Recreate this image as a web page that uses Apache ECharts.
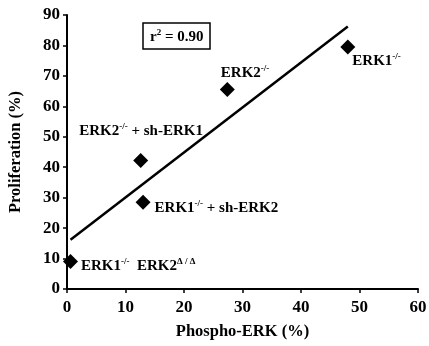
<!DOCTYPE html>
<html>
<head>
<meta charset="utf-8">
<script src="https://cdn.jsdelivr.net/npm/echarts@6/dist/echarts.min.js"></script>
<style>
  html, body { margin: 0; padding: 0; background: #fff; }
  #chart { width: 429px; height: 346px; }
</style>
</head>
<body>
<div id="chart"></div>
<script>
// data
const phosphoErk = [0.6, 13.0, 12.6, 27.4, 48.0];
const proliferation = [9.0, 28.5, 42.2, 65.5, 79.5];
const pointLabels = [
  '{b|ERK1}{s|-/-}{b|  ERK2}{s|Δ / Δ}',
  '{b|ERK1}{s|-/-}{b| + sh-ERK2}',
  '{b|ERK2}{s|-/-}{b| + sh-ERK1}',
  '{b|ERK2}{s|-/-}',
  '{b|ERK1}{s|-/-}'
];
const trendX = [0.6, 48.0];
const trendY = [16.2, 86.2];
const xTicks = [0, 10, 20, 30, 40, 50, 60];
const yTicks = [0, 10, 20, 30, 40, 50, 60, 70, 80, 90];
const rSquared = '0.90';

// label placement relative to each marker (styling, not data)
const labelOffsets = [[18, 12], [19, 13], [-54, -22], [1, -9], [12, 22]];

const FONT = 'Liberation Serif';
const rich = {
  b: { fontFamily: FONT, fontWeight: 'bold', fontSize: 15, color: '#000', lineHeight: 18 },
  s: { fontFamily: FONT, fontWeight: 'bold', fontSize: 9, color: '#000', verticalAlign: 'top', lineHeight: 10 }
};

const chart = echarts.init(document.getElementById('chart'), null, { renderer: 'canvas' });

chart.setOption({
  animation: false,
  grid: { left: 67, right: 11, top: 15, bottom: 57, containLabel: false, outerBoundsMode: 'none' },
  title: {
    text: '{r|r}{sup|2}{r| = ' + rSquared + '}',
    left: 143,
    top: 23,
    padding: [5, 7, 5, 7],
    borderColor: '#000',
    borderWidth: 1.5,
    textStyle: {
      rich: {
        r: { fontFamily: FONT, fontWeight: 'bold', fontSize: 15, color: '#000', lineHeight: 18 },
        sup: { fontFamily: FONT, fontWeight: 'bold', fontSize: 9, color: '#000', verticalAlign: 'top', lineHeight: 10 }
      }
    }
  },
  xAxis: {
    type: 'value',
    min: xTicks[0],
    max: xTicks[xTicks.length - 1],
    interval: xTicks[1] - xTicks[0],
    name: 'Phospho-ERK (%)',
    nameLocation: 'middle',
    nameGap: 34,
    nameTextStyle: { fontFamily: FONT, fontWeight: 'bold', fontSize: 16.5, color: '#000' },
    axisLine: { lineStyle: { color: '#000', width: 2 } },
    axisTick: { show: true, length: 4, lineStyle: { color: '#000', width: 1.5 } },
    axisLabel: { fontFamily: FONT, fontWeight: 'bold', fontSize: 17, color: '#000', margin: 10 },
    splitLine: { show: false }
  },
  yAxis: {
    type: 'value',
    min: yTicks[0],
    max: yTicks[yTicks.length - 1],
    interval: yTicks[1] - yTicks[0],
    name: 'Proliferation (%)',
    nameLocation: 'middle',
    nameGap: 43,
    nameTextStyle: { fontFamily: FONT, fontWeight: 'bold', fontSize: 16.5, color: '#000' },
    axisLine: { show: true, lineStyle: { color: '#000', width: 2 } },
    axisTick: { show: true, length: 4, lineStyle: { color: '#000', width: 1.5 } },
    axisLabel: { fontFamily: FONT, fontWeight: 'bold', fontSize: 17, color: '#000', margin: 7 },
    splitLine: { show: false }
  },
  series: [
    {
      type: 'line',
      data: trendX.map((x, i) => [x, trendY[i]]),
      showSymbol: false,
      lineStyle: { color: '#000', width: 2.5 },
      silent: true,
      z: 2
    },
    {
      type: 'scatter',
      symbol: 'diamond',
      symbolSize: 15,
      itemStyle: { color: '#000', opacity: 1 },
      z: 3,
      data: phosphoErk.map((x, i) => ({
        value: [x, proliferation[i]],
        label: {
          show: true,
          position: labelOffsets[i],
          align: 'left',
          verticalAlign: 'middle',
          color: '#000',
          textBorderWidth: 0,
          formatter: pointLabels[i],
          rich: rich
        }
      }))
    }
  ]
});
</script>
</body>
</html>
